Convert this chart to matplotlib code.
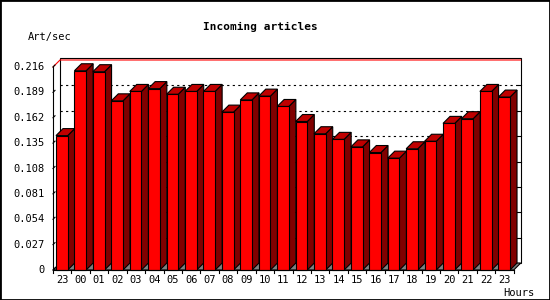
import matplotlib.pyplot as plt
from matplotlib.patches import Polygon, Rectangle

# data
hours = ['23', '00', '01', '02', '03', '04', '05', '06', '07', '08', '09', '10',
         '11', '12', '13', '14', '15', '16', '17', '18', '19', '20', '21', '22', '23']
values = [0.143, 0.212, 0.211, 0.180, 0.190, 0.193, 0.187, 0.190, 0.190, 0.168,
          0.181, 0.185, 0.174, 0.158, 0.145, 0.139, 0.131, 0.125, 0.119, 0.129,
          0.137, 0.156, 0.161, 0.190, 0.184]
y_ticks = [0, 0.027, 0.054, 0.081, 0.108, 0.135, 0.162, 0.189, 0.216]
y_labels = ['0', '0.027', '0.054', '0.081', '0.108', '0.135', '0.162', '0.189', '0.216']

plt.rcParams['font.family'] = ['DejaVu Sans Mono', 'DejaVu Sans']

W, H = 550, 300
fig = plt.figure(figsize=(W / 100, H / 100), dpi=100)
fig.patch.set_facecolor('white')

n = len(values)
ymax = y_ticks[-1]
ax = fig.add_axes([53 / W, 30 / H, 460.75 / W, 203 / H])
ax.set_xlim(0, n)
ax.set_ylim(0, ymax)
ax.axis('off')

px_x = n / 460.75          # one pixel in x data units
px_y = ymax / 203          # one pixel in y data units
dx, dy = 7 * px_x, 7 * px_y  # 3d depth
lw = 0.8

# back wall
ax.add_patch(Rectangle((dx, dy), n, ymax + 2.5 * px_y, fc='white', ec='black',
                       lw=lw, clip_on=False, zorder=1))
for v in y_ticks[1:-1]:
    ax.plot([dx, n + dx], [v + dy, v + dy], color='black', lw=lw,
            ls=(0, (2, 3)), clip_on=False, zorder=2)
    ax.plot([n + dx - 3 * px_x, n + dx], [v + dy, v + dy], color='black', lw=lw,
            clip_on=False, zorder=2)
ax.plot([0, dx, n + dx], [ymax, ymax + dy, ymax + dy], color='red', lw=lw,
        clip_on=False, zorder=2)

# floor
ax.add_patch(Polygon([(0, 0), (n, 0), (n + dx, dy), (dx, dy)], closed=True,
                     fc='#808080', ec='black', lw=lw, clip_on=False, zorder=3))

# bars
for i, v in enumerate(values):
    x0 = i + 3 * px_x
    x1 = i + 14.7 * px_x
    ax.add_patch(Polygon([(x1, 0), (x1 + dx, dy), (x1 + dx, v + dy), (x1, v)],
                         closed=True, fc='#800000', ec='black', lw=lw,
                         clip_on=False, zorder=4))
    ax.add_patch(Polygon([(x0, v), (x0 + dx, v + dy), (x1 + dx, v + dy), (x1, v)],
                         closed=True, fc='#c00000', ec='black', lw=lw,
                         clip_on=False, zorder=4))
    ax.add_patch(Rectangle((x0, 0), x1 - x0, v, fc='#ff0000', ec='black', lw=lw,
                           clip_on=False, zorder=5))

# axes lines
ax.plot([0, 0], [0, ymax], color='black', lw=lw, clip_on=False, zorder=6)
ax.plot([0, n], [0, 0], color='black', lw=lw, clip_on=False, zorder=6)

for v, lab in zip(y_ticks, y_labels):
    ax.plot([0, 2 * px_x], [v, v + 2 * px_y], color='black', lw=lw,
            clip_on=False, zorder=6)
    ax.text(-8 * px_x, v, lab, ha='right', va='center', fontsize=7.5)

for i in range(n + 1):
    ax.plot([i, i], [0, -3 * px_y], color='black', lw=lw, clip_on=False, zorder=6)
for i, lab in enumerate(hours):
    ax.text(i + 0.5, -5 * px_y, lab, ha='center', va='top', fontsize=7.5)

# texts
fig.text(260 / W, 1 - 27 / H, 'Incoming articles', ha='center', va='center',
         fontsize=8, fontweight='bold')
fig.text(28 / W, 1 - 37 / H, 'Art/sec', ha='left', va='center', fontsize=7.5)
fig.text(534 / W, 1 - 293 / H, 'Hours', ha='right', va='center', fontsize=7.5)

# outer frame
fig.add_artist(Rectangle((0, 0), 1, 1, transform=fig.transFigure, fill=False,
                         ec='black', lw=2))

fig.savefig('out.png', dpi=100)
